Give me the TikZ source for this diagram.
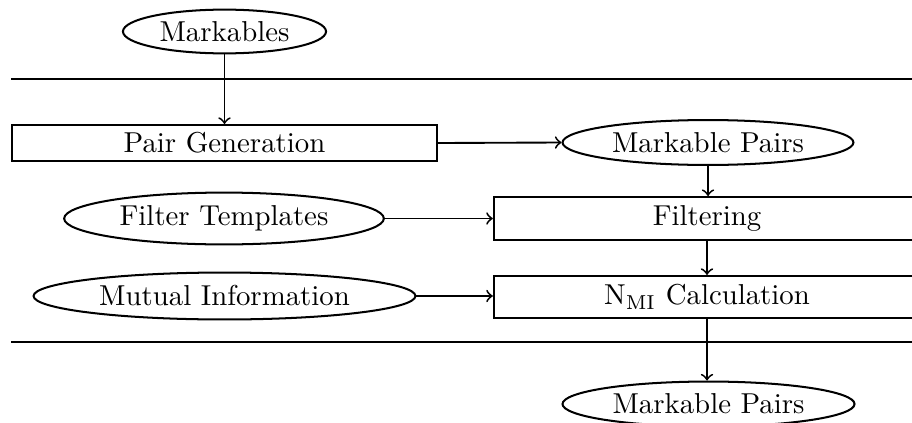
\documentclass[tikz,border=0pt]{standalone}
\usetikzlibrary{shapes.geometric}
\begin{document}
\begin{tikzpicture}[x=0.3472pt,y=-0.3472pt,
  line width=0.7pt,
  oval/.style={draw,ellipse,inner sep=0pt},
  stepbox/.style={draw,rectangle,inner sep=0pt},
  flow/.style={->,line width=0.65pt}]
\useasboundingbox (0,0) rectangle (912,422);
% inputs and outputs
\node[oval,minimum width=70.5pt,minimum height=15.2pt] (mk) at (224.5,31.5) {Markables};
\node[oval,minimum width=101pt,minimum height=15.6pt] (mp) at (708,142.5) {Markable Pairs};
\node[oval,minimum width=111pt,minimum height=18pt] (ft) at (224,218.5) {Filter Templates};
\node[oval,minimum width=132.6pt,minimum height=16.3pt] (mi) at (224.5,296) {Mutual Information};
\node[oval,minimum width=101.4pt,minimum height=15.6pt] (out) at (708.5,404) {Markable Pairs};
% processing steps
\node[stepbox,minimum width=147.6pt,minimum height=12.5pt] (pg) at (224.5,143) {Pair Generation};
\node[stepbox,minimum width=148pt,minimum height=14.9pt] (fl) at (707,218.5) {Filtering};
\node[stepbox,minimum width=148pt,minimum height=14.6pt] (nm) at (707,297) {N$_{\mathrm{MI}}$ Calculation};
% separators
\coordinate (s1a) at (11,79);
\coordinate (s1b) at (912,79);
\coordinate (s2a) at (11,342);
\coordinate (s2b) at (912,342);
\draw (s1a) -- (s1b);
\draw (s2a) -- (s2b);
% flow
\draw[flow] (mk.south) -- (pg.north -| mk.south);
\draw[flow] (pg.east) -- (mp.west);
\draw[flow] (mp.south) -- (mp.south |- fl.north);
\draw[flow] (ft.east) -- (ft.east -| fl.west);
\draw[flow] (fl.south) -- (nm.north);
\draw[flow] (mi.east) -- (mi.east -| nm.west);
\draw[flow] (nm.south) -- (nm.south |- out.north);
\end{tikzpicture}
\end{document}
